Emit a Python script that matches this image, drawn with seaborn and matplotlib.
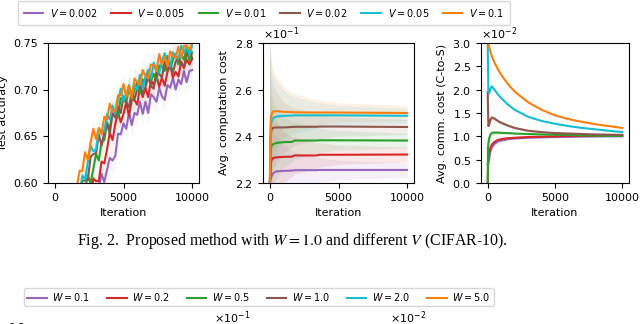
import numpy as np
import pandas as pd
import matplotlib
matplotlib.use("Agg")
import matplotlib.pyplot as plt
import seaborn as sns

# ---------------- data ----------------
LABELS = ["$V = 0.002$", "$V = 0.005$", "$V = 0.01$", "$V = 0.02$", "$V = 0.05$", "$V = 0.1$"]
W_LABELS = ["$W = 0.1$", "$W = 0.2$", "$W = 0.5$", "$W = 1.0$", "$W = 2.0$", "$W = 5.0$"]
COLORS = ["#9467bd", "#d62728", "#2ca02c", "#8c564b", "#17becf", "#ff7f0e"]

# test accuracy, iterations 1600..10000 step 200
X_ACC = list(range(1600, 10001, 200))
acc_v0002 = [0.525, 0.542, 0.546, 0.545, 0.569, 0.564, 0.581, 0.576, 0.595, 0.610, 0.601, 0.614, 0.627, 0.624, 0.629,
             0.653, 0.652, 0.664, 0.658, 0.676, 0.662, 0.675, 0.673, 0.687, 0.674, 0.687, 0.675, 0.695, 0.692, 0.687,
             0.702, 0.693, 0.689, 0.705, 0.702, 0.713, 0.700, 0.711, 0.706, 0.720, 0.708, 0.720, 0.721]
acc_v0005 = [0.552, 0.551, 0.572, 0.569, 0.586, 0.580, 0.605, 0.602, 0.602, 0.623, 0.621, 0.636, 0.654, 0.646, 0.663,
             0.676, 0.665, 0.674, 0.686, 0.672, 0.689, 0.689, 0.684, 0.703, 0.692, 0.702, 0.692, 0.710, 0.705, 0.715,
             0.703, 0.713, 0.704, 0.719, 0.727, 0.713, 0.719, 0.714, 0.730, 0.723, 0.732, 0.727, 0.733]
acc_v001 = [0.563, 0.580, 0.576, 0.594, 0.608, 0.600, 0.615, 0.631, 0.624, 0.644, 0.646, 0.665, 0.658, 0.675, 0.675,
            0.671, 0.691, 0.689, 0.686, 0.703, 0.689, 0.700, 0.708, 0.696, 0.711, 0.707, 0.721, 0.709, 0.717, 0.710,
            0.726, 0.725, 0.720, 0.736, 0.722, 0.732, 0.738, 0.727, 0.738, 0.732, 0.744, 0.731, 0.740]
acc_v002 = [0.583, 0.582, 0.602, 0.603, 0.603, 0.628, 0.631, 0.632, 0.652, 0.640, 0.654, 0.663, 0.653, 0.675, 0.670,
            0.682, 0.675, 0.693, 0.687, 0.681, 0.698, 0.690, 0.700, 0.707, 0.695, 0.703, 0.714, 0.704, 0.701, 0.719,
            0.717, 0.713, 0.730, 0.720, 0.728, 0.718, 0.730, 0.735, 0.727, 0.725, 0.737, 0.742, 0.734]
acc_v005 = [0.590, 0.589, 0.608, 0.604, 0.622, 0.640, 0.634, 0.636, 0.657, 0.657, 0.655, 0.674, 0.668, 0.683, 0.674,
            0.688, 0.701, 0.688, 0.695, 0.705, 0.693, 0.706, 0.700, 0.716, 0.701, 0.714, 0.721, 0.712, 0.729, 0.721,
            0.718, 0.730, 0.739, 0.727, 0.725, 0.740, 0.736, 0.733, 0.747, 0.739, 0.747, 0.738, 0.747]
acc_v01 = [0.596, 0.613, 0.613, 0.633, 0.625, 0.643, 0.658, 0.647, 0.659, 0.652, 0.671, 0.668, 0.685, 0.676, 0.677,
           0.694, 0.694, 0.706, 0.692, 0.704, 0.691, 0.712, 0.708, 0.705, 0.721, 0.715, 0.712, 0.727, 0.726, 0.720,
           0.738, 0.727, 0.735, 0.725, 0.741, 0.736, 0.734, 0.746, 0.734, 0.747, 0.747, 0.743, 0.750]
ACC_SERIES = [acc_v0002, acc_v0005, acc_v001, acc_v002, acc_v005, acc_v01]
ACC_BAND = 0.012

# avg computation cost (in units of 1e-1)
X_COMP = [0, 50, 100, 200, 300, 500, 1000, 1600, 1800, 3400, 3600, 5000, 10000]
comp_v0002 = [2.200, 2.212, 2.225, 2.238, 2.245, 2.250, 2.252, 2.253, 2.255, 2.255, 2.256, 2.256, 2.256]
comp_v0005 = [2.200, 2.260, 2.295, 2.305, 2.308, 2.310, 2.312, 2.313, 2.318, 2.318, 2.321, 2.321, 2.322]
comp_v001 = [2.200, 2.320, 2.355, 2.365, 2.368, 2.372, 2.375, 2.376, 2.382, 2.382, 2.383, 2.383, 2.382]
comp_v002 = [2.200, 2.380, 2.425, 2.435, 2.437, 2.438, 2.438, 2.440, 2.441, 2.441, 2.442, 2.442, 2.440]
comp_v005 = [2.200, 2.410, 2.460, 2.475, 2.480, 2.485, 2.488, 2.489, 2.490, 2.490, 2.490, 2.490, 2.488]
comp_v01 = [2.200, 2.450, 2.490, 2.505, 2.507, 2.508, 2.505, 2.504, 2.503, 2.502, 2.502, 2.502, 2.500]
COMP_SERIES = [comp_v0002, comp_v0005, comp_v001, comp_v002, comp_v005, comp_v01]
comp_band = [0.60, 0.35, 0.25, 0.19, 0.17, 0.15, 0.11, 0.085, 0.08, 0.055, 0.053, 0.042, 0.032]
COMP_SCALE = 1e-1

# avg comm. cost C-to-S (in units of 1e-2)
X_COMM = [0, 20, 50, 100, 200, 300, 500, 750, 1000, 1500, 2000, 3000, 4000, 5000, 6000, 7000, 8000, 9000, 10000]
comm_v0002 = [0.40, 0.45, 0.45, 0.50, 0.68, 0.76, 0.84, 0.89, 0.91, 0.94, 0.955, 0.97, 0.98, 0.985, 0.99, 0.995, 0.997, 1.00, 1.00]
comm_v0005 = [0.00, 0.30, 0.60, 0.65, 0.75, 0.82, 0.88, 0.92, 0.94, 0.96, 0.97, 0.985, 0.99, 1.00, 1.005, 1.01, 1.01, 1.015, 1.02]
comm_v001 = [0.00, 0.75, 0.85, 0.95, 1.04, 1.07, 1.08, 1.08, 1.075, 1.07, 1.06, 1.05, 1.04, 1.035, 1.03, 1.02, 1.015, 1.01, 1.01]
comm_v002 = [1.95, 1.60, 1.22, 1.25, 1.36, 1.40, 1.38, 1.33, 1.29, 1.23, 1.18, 1.12, 1.09, 1.07, 1.06, 1.05, 1.04, 1.035, 1.03]
comm_v005 = [3.00, 2.50, 1.95, 1.92, 2.02, 2.07, 2.00, 1.90, 1.82, 1.68, 1.57, 1.42, 1.33, 1.27, 1.22, 1.18, 1.15, 1.12, 1.09]
comm_v01 = [3.05, 3.02, 2.97, 2.92, 2.82, 2.72, 2.58, 2.44, 2.32, 2.12, 1.96, 1.73, 1.57, 1.45, 1.37, 1.31, 1.26, 1.22, 1.18]
COMM_SERIES = [comm_v0002, comm_v0005, comm_v001, comm_v002, comm_v005, comm_v01]
comm_band = [0.15, 0.15, 0.12, 0.10, 0.08, 0.06, 0.05, 0.04, 0.035, 0.03, 0.025, 0.02, 0.018, 0.015, 0.013, 0.012, 0.011, 0.01, 0.01]
COMM_SCALE = 1e-2

CAPTION = r"Fig. 2.  Proposed method with $W = 1.0$ and different $V$ (CIFAR-10)."

# ---------------- figure ----------------
plt.rcParams.update({"font.size": 8, "axes.linewidth": 0.8})
W, H = 640, 324
fig = plt.figure(figsize=(W / 100, H / 100), dpi=100)


def px_axes(left, top, width, height):
    return fig.add_axes([left / W, 1 - (top + height) / H, width / W, height / H])


def long_df(x, series, scale=1.0):
    rows = []
    for lab, ys in zip(LABELS, series):
        for xi, yi in zip(x, ys):
            rows.append((xi, yi * scale, lab))
    return pd.DataFrame(rows, columns=["it", "val", "lab"])


pal = dict(zip(LABELS, COLORS))

ax1 = px_axes(48, 43, 151, 140)
ax2 = px_axes(263, 43, 151, 140)
ax3 = px_axes(481, 43, 148, 140)

# panel 1
for ys, c in zip(ACC_SERIES, COLORS):
    y = np.array(ys)
    ax1.fill_between(X_ACC, y - ACC_BAND, y + ACC_BAND, color=c, alpha=0.06, lw=0)
sns.lineplot(data=long_df(X_ACC, ACC_SERIES), x="it", y="val", hue="lab", hue_order=LABELS,
             palette=pal, errorbar=None, legend=False, lw=1.5, ax=ax1)
ax1.set_ylim(0.60, 0.75)
ax1.set_yticks([0.60, 0.65, 0.70, 0.75])
ax1.set_ylabel("Test accuracy")

# panel 2
for ys, c in zip(COMP_SERIES, COLORS):
    y = np.array(ys) * COMP_SCALE
    b = np.array(comp_band) * COMP_SCALE
    ax2.fill_between(X_COMP, y - b, y + b, color=c, alpha=0.1, lw=0)
sns.lineplot(data=long_df(X_COMP, COMP_SERIES, COMP_SCALE), x="it", y="val", hue="lab", hue_order=LABELS,
             palette=pal, errorbar=None, legend=False, lw=1.5, ax=ax2)
ax2.set_ylim(0.22, 0.28)
ax2.set_yticks([0.22, 0.24, 0.26, 0.28])
ax2.set_ylabel("Avg. computation cost")

# panel 3
for ys, c in zip(COMM_SERIES, COLORS):
    y = np.array(ys) * COMM_SCALE
    b = np.array(comm_band) * COMM_SCALE
    ax3.fill_between(X_COMM, y - b, y + b, color=c, alpha=0.15, lw=0)
sns.lineplot(data=long_df(X_COMM, COMM_SERIES, COMM_SCALE), x="it", y="val", hue="lab", hue_order=LABELS,
             palette=pal, errorbar=None, legend=False, lw=1.5, ax=ax3)
ax3.set_ylim(0.0, 0.03)
ax3.set_yticks([0.0, 0.005, 0.010, 0.015, 0.020, 0.025, 0.030])
ax3.set_ylabel("Avg. comm. cost (C-to-S)")

for ax in (ax1, ax2, ax3):
    ax.set_xlim(-500, 10500)
    ax.set_xticks([0, 5000, 10000])
    ax.set_xlabel("Iteration")
    ax.tick_params(labelsize=8)
for ax in (ax2, ax3):
    ax.ticklabel_format(axis="y", style="sci", scilimits=(0, 0), useMathText=True, useOffset=False)

# top legend
handles = [plt.Line2D([], [], color=c, lw=1.5) for c in COLORS]
fig.legend(handles, LABELS, loc="upper center", bbox_to_anchor=(264 / W, 1 - 1 / H), ncol=6,
           fontsize=7, frameon=True, columnspacing=1.4, handlelength=2.0, handletextpad=0.7,
           borderpad=0.6, borderaxespad=0)

# caption
fig.text(292 / W, 1 - 241 / H, CAPTION, ha="center", va="center", fontsize=11.4,
         family="Liberation Serif", math_fontfamily="stix")

# second legend
fig.legend(handles, W_LABELS, loc="upper center", bbox_to_anchor=(259 / W, 1 - 288 / H), ncol=6,
           fontsize=7, frameon=True, columnspacing=1.7, handlelength=2.0, handletextpad=0.6,
           borderpad=0.3, borderaxespad=0)

# partially visible next row
r1 = px_axes(35, 327, 140, 140)
r1.set_ylim(0.5, 0.8)
r1.set_yticks([0.5, 0.6, 0.7, 0.8])
r2 = px_axes(214, 327, 145, 140)
r2.set_ylim(0.22, 0.28)
r2.set_yticks([0.22, 0.24, 0.26, 0.28])
r2.ticklabel_format(axis="y", style="sci", scilimits=(0, 0), useMathText=True, useOffset=False)
r3 = px_axes(390, 327, 140, 140)
r3.set_ylim(0.0, 0.03)
r3.set_yticks([0.0, 0.01, 0.02, 0.03])
r3.ticklabel_format(axis="y", style="sci", scilimits=(0, 0), useMathText=True, useOffset=False)
for ax in (r1, r2, r3):
    ax.tick_params(labelsize=7.5)

fig.savefig("out.png", dpi=100)
